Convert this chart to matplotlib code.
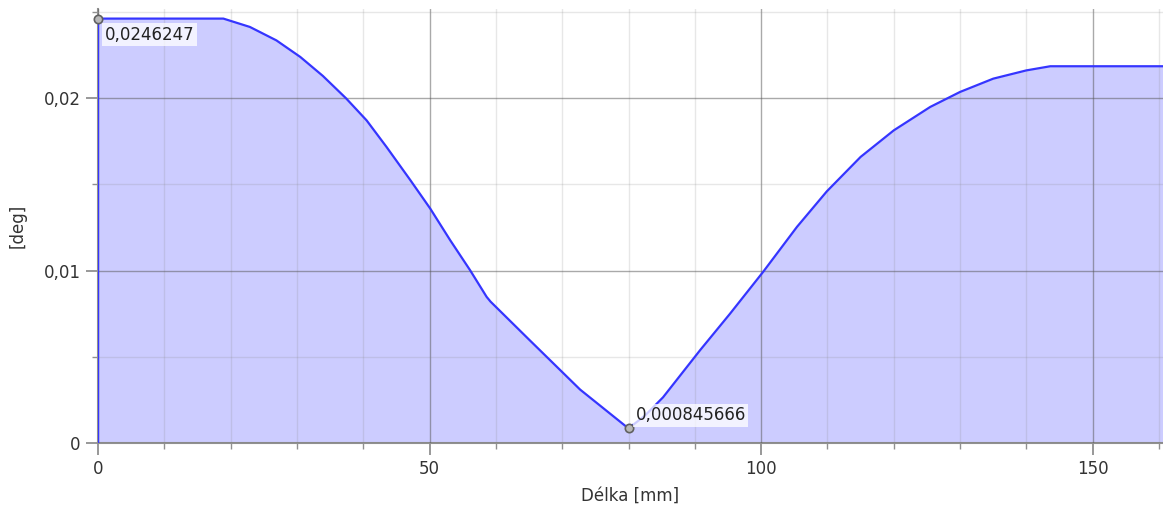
import matplotlib.pyplot as plt
from matplotlib.ticker import FuncFormatter, MultipleLocator

# curve (length in mm, angle in deg)
length_mm = [0, 0, 18.9, 22.9, 26.9, 30.5, 33.9, 37.4, 40.5, 43.5, 47.1,
             50.1, 53.1, 56.1, 58.6, 59.2, 65, 72.7, 80,
             82.5, 85.2, 90.8, 95.3, 100.3, 105.4, 109.9, 115, 120, 125.5,
             130, 135, 140, 143.6, 160.6]
angle_deg = [0, 0.0246247, 0.0246247, 0.02414, 0.02336, 0.0224, 0.0213,
             0.0200, 0.01872, 0.01718, 0.01525, 0.0136, 0.01177, 0.01003,
             0.00848, 0.0082, 0.0060, 0.0031, 0.000845666,
             0.0016, 0.00265, 0.00539, 0.0075, 0.00993, 0.01254, 0.0146,
             0.0166, 0.01814, 0.0195, 0.02037, 0.02114, 0.02162, 0.02186, 0.02186]

max_point = (0, 0.0246247)
min_point = (80, 0.000845666)
max_label = "0,0246247"
min_label = "0,000845666"

fig = plt.figure(figsize=(11.63, 5.14), dpi=100)
ax = fig.add_axes([0.0843, 0.1381, 0.9157, 0.845])

ax.fill_between(length_mm, angle_deg, 0, color="#ccccff", linewidth=0, zorder=1)
ax.plot(length_mm, angle_deg, color="#3535ff", linewidth=1.6, zorder=3)

# extreme markers + value labels
for (px, py) in (max_point, min_point):
    ax.plot(px, py, "o", markersize=6, markerfacecolor="#b8b8b8",
            markeredgecolor="#606060", markeredgewidth=1.2, zorder=5, clip_on=False)

box = dict(boxstyle="square,pad=0.15", facecolor="white", edgecolor="none", alpha=0.75)
ax.annotate(max_label, xy=max_point, xytext=(5, -5), textcoords="offset points",
            ha="left", va="top", fontsize=12, color="#222222", bbox=box, zorder=6)
ax.annotate(min_label, xy=min_point, xytext=(5, 3), textcoords="offset points",
            ha="left", va="bottom", fontsize=12, color="#222222", bbox=box, zorder=6)

ax.set_xlim(0, 160.6)
ax.set_ylim(0, 0.0252)

ax.xaxis.set_major_locator(MultipleLocator(50))
ax.xaxis.set_minor_locator(MultipleLocator(10))
ax.yaxis.set_major_locator(MultipleLocator(0.01))
ax.yaxis.set_minor_locator(MultipleLocator(0.005))

comma = FuncFormatter(lambda v, pos: ("%g" % v).replace(".", ","))
ax.xaxis.set_major_formatter(comma)
ax.yaxis.set_major_formatter(comma)

ax.grid(which="major", color="#555555", alpha=0.5, linewidth=1.0)
ax.grid(which="minor", color="#888888", alpha=0.2, linewidth=1.0)
ax.set_axisbelow(False)

for side in ("top", "right"):
    ax.spines[side].set_visible(False)
for side in ("left", "bottom"):
    ax.spines[side].set_color("#909090")
    ax.spines[side].set_linewidth(1.5)

ax.tick_params(which="major", length=8.5, width=1.3, color="#909090",
               labelsize=12, labelcolor="#333333", pad=4)
ax.tick_params(which="minor", length=4.5, width=1.0, color="#909090")

ax.set_xlabel("Délka [mm]", fontsize=12, color="#333333", labelpad=6)
ax.set_ylabel("[deg]", fontsize=12, color="#333333", labelpad=12)

fig.savefig("out.png", dpi=100)
